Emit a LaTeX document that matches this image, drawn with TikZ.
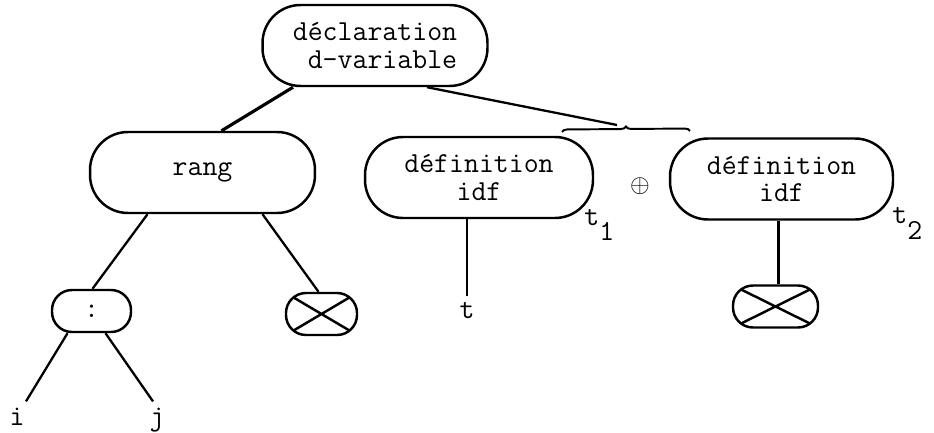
\documentclass[tikz,border=0pt]{standalone}
\usetikzlibrary{decorations.pathreplacing, positioning}
\begin{document}
\begin{tikzpicture}[x=0.02cm, y=-0.02cm,
    every node/.style={font=\fontsize{16.5}{15.5}\selectfont\ttfamily},
    box/.style={draw, line width=1.4pt, rounded corners=0.76cm, minimum height=1.62cm, align=center, inner sep=0pt},
    smallbox/.style={draw, line width=1.4pt, rounded corners=0.4cm, minimum height=0.84cm, inner sep=0pt},
    crossbox/.style={smallbox, path picture={
        \draw[line width=1.4pt] (path picture bounding box.north west) -- (path picture bounding box.south east)
            (path picture bounding box.south west) -- (path picture bounding box.north east);}},
    edge/.style={line width=1.3pt}]
    \useasboundingbox (0,0) rectangle (934,433);

    % the tree
    \node[box, minimum width=4.5cm, align=right] (decl) at (375,45.5) {déclaration\\d-variable};
    \node[box, minimum width=4.5cm] (rang) at (202.5,172.5) {rang};
    \node[box, minimum width=4.56cm] (defa) at (479,177.5) {définition\\idf};
    \node[box, minimum width=4.46cm] (defb) at (781.5,179) {définition\\idf};
    \node[smallbox, minimum width=1.58cm] (colon) at (91.5,311) {:};
    \node[crossbox, minimum width=1.42cm] (xa) at (321.5,314) {};
    \node[crossbox, minimum width=1.7cm] (xb) at (775.5,306.5) {};

    % leaves
    \node[anchor=base] (i) at (17,425) {i};
    \node[anchor=base] (j) at (157,425) {j};
    \node[anchor=base] (t) at (467,318) {t};

    % labels
    \node[anchor=base west, inner sep=0pt] (ta) at (584,225) {t\raisebox{-0.52em}{1}};
    \node[anchor=base west, inner sep=0pt] (tb) at (892,223) {t\raisebox{-0.58em}{2}};
    \node[inner sep=0pt] (plus) at (640,186) {\fontsize{15}{17}\selectfont$\oplus$};

    \coordinate (bracetip) at (617,125);

    \draw[edge, line width=1.8pt] ([xshift=-1.64cm]decl.south) -- ([xshift=0.38cm]rang.north);
    \draw[edge] ([xshift=1.04cm]decl.south) -- (bracetip);
    \draw[line width=1.1pt, decorate, decoration={brace, amplitude=0.1cm}] (562,132) -- (690,131);

    \draw[edge] ([xshift=-1.1cm]rang.south) -- ([xshift=0.02cm]colon.north);
    \draw[edge] ([xshift=1.2cm]rang.south) -- ([xshift=-0.06cm]xa.north);
    \draw[edge] ([xshift=-0.48cm]colon.south) -- ([xshift=0.18cm]i.north);
    \draw[edge] ([xshift=0.28cm]colon.south) -- ([xshift=-0.08cm]j.north);
    \draw[edge] (t.north |- defa.south) -- (t.north);
    \draw[edge] ([xshift=0.06cm]xb.north |- defb.south) -- ([xshift=0.06cm]xb.north);
\end{tikzpicture}
\end{document}
